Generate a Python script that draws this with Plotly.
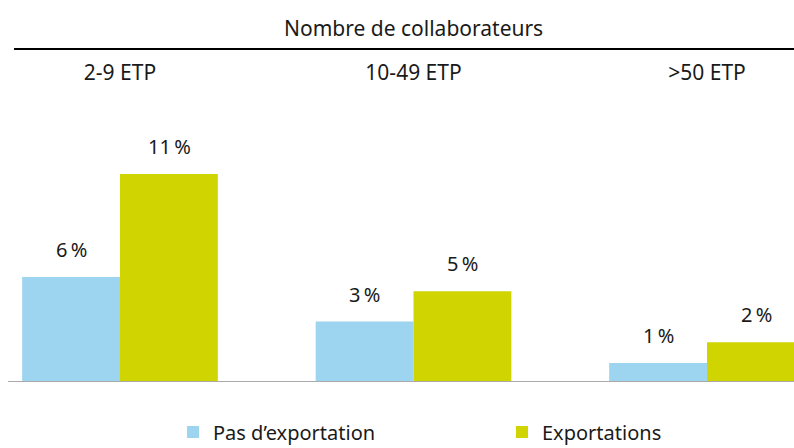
import plotly.graph_objects as go

# data (labels are rounded to whole percents)
categories = ["2-9 ETP", "10-49 ETP", ">50 ETP"]
pas_export = [5.55, 3.2, 1.0]
exportations = [11.0, 4.8, 2.1]
series_names = ["Pas d\u2019exportation", "Exportations"]

BLUE = "#9dd5f0"
GREEN = "#d0d400"
FONT = "Noto Sans"
INK = "#1a1a1a"

W, H = 794, 448
M_L, M_R, M_T, M_B = 8, 0, 85, 66
plot_h = H - M_T - M_B
px_per_unit = 18.9


def paper_y(py):
    return (H - M_B - py) / plot_h


def paper_x(px):
    return (px - M_L) / (W - M_L - M_R)


fig = go.Figure()
fig.add_trace(go.Bar(x=categories, y=pas_export, name=series_names[0],
                     legend="legend",
                     marker=dict(color=BLUE, line=dict(width=0))))
fig.add_trace(go.Bar(x=categories, y=exportations, name=series_names[1],
                     legend="legend2",
                     marker=dict(color=GREEN, line=dict(width=0))))

# value labels above each bar
annotations = []
for vals, shift in ((pas_export, -49), (exportations, 49)):
    for cat, v in zip(categories, vals):
        annotations.append(dict(
            x=cat, y=v, xref="x", yref="y", xshift=shift, yshift=12,
            text=f"{v:.0f}\u2009%", showarrow=False, yanchor="bottom",
            font=dict(family=FONT, size=20, color=INK),
        ))

annotations.append(dict(
    x=paper_x(413), y=paper_y(28), xref="paper", yref="paper",
    text="Nombre de collaborateurs", showarrow=False, yanchor="middle",
    font=dict(family=FONT, size=21, color=INK),
))

legend_style = dict(orientation="h", xanchor="left", yanchor="middle",
                    y=paper_y(432), bgcolor="rgba(0,0,0,0)",
                    font=dict(family=FONT, size=20, color=INK),
                    itemclick=False, itemdoubleclick=False)

fig.update_layout(
    width=W, height=H,
    margin=dict(l=M_L, r=M_R, t=M_T, b=M_B, autoexpand=False),
    barmode="group", bargap=1 / 3, bargroupgap=0,
    plot_bgcolor="white", paper_bgcolor="white",
    showlegend=True,
    legend=dict(x=paper_x(173), **legend_style),
    legend2=dict(x=paper_x(502), **legend_style),
    xaxis=dict(type="category", side="top", range=[-0.3816, 2.2964],
               showline=False, showgrid=False, ticks="", zeroline=False,
               tickfont=dict(family=FONT, size=21, color=INK)),
    yaxis=dict(range=[0, plot_h / px_per_unit], visible=False),
    annotations=annotations,
    shapes=[
        dict(type="line", xref="paper", yref="y", x0=0, x1=1, y0=0, y1=0,
             line=dict(color="#aaaaaa", width=2)),
        dict(type="line", xref="paper", yref="paper",
             x0=paper_x(14), x1=1, y0=paper_y(49), y1=paper_y(49),
             line=dict(color="black", width=2)),
    ],
)

# the page body has a default 8px margin; drop it so the figure fills the window
fig.write_html("out.html", config={"displayModeBar": False},
               post_script="document.body.style.margin = '0';")
